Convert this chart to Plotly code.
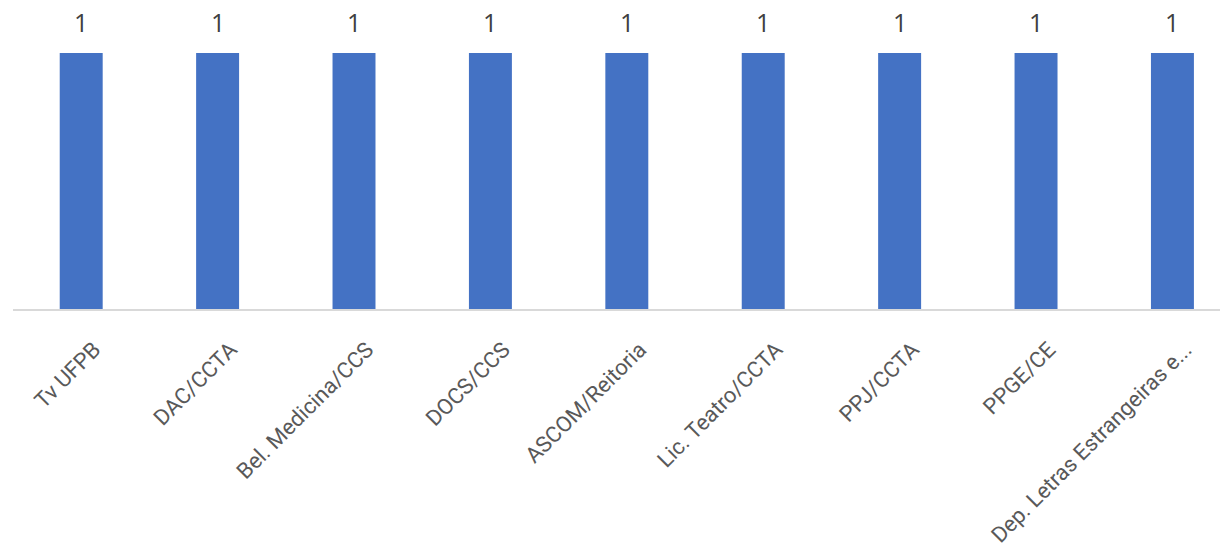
import plotly.graph_objects as go

categories = ["Tv UFPB", "DAC/CCTA", "Bel. Medicina/CCS", "DOCS/CCS", "ASCOM/Reitoria",
              "Lic. Teatro/CCTA", "PPJ/CCTA", "PPGE/CE", "Dep. Letras Estrangeiras e..."]
values = [1, 1, 1, 1, 1, 1, 1, 1, 1]

fig = go.Figure()
fig.add_trace(go.Bar(
    x=categories, y=values,
    marker=dict(color="#4472C4", line=dict(width=0)),
    width=0.315,
    hoverinfo="x+y",
))

for c, v in zip(categories, values):
    fig.add_annotation(x=c, y=v, text=str(v), showarrow=False, yanchor="bottom",
                       yshift=19, borderpad=0, height=22, valign="middle",
                       font=dict(family="Open Sans, sans-serif", size=25, color="#404040"))

fig.update_layout(
    width=1228, height=550,
    margin=dict(l=5, r=0, t=0, b=249),
    paper_bgcolor="white", plot_bgcolor="white",
    showlegend=False,
    xaxis=dict(
        range=[-0.5, 8.466],
        automargin=False,
        showline=True, linecolor="#D9D9D9", linewidth=2,
        tickangle=-45,
        ticks="",
        ticklabelstandoff=17, ticklabelshift=13,
        tickfont=dict(family="Roboto, sans-serif", size=22, color="#595959"),
        showgrid=False, zeroline=False,
    ),
    yaxis=dict(range=[0, 1.176], visible=False, showgrid=False, zeroline=False, automargin=False),
)

fig.write_html("out.html")
